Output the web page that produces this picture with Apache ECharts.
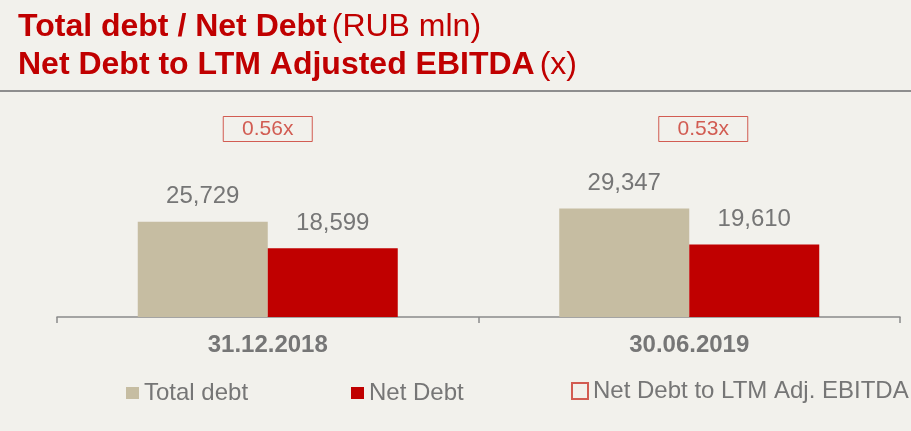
<!DOCTYPE html>
<html>
<head>
<meta charset="utf-8">
<script src="https://cdn.jsdelivr.net/npm/echarts@6/dist/echarts.min.js"></script>
<style>
  html, body { margin: 0; padding: 0; background: #f2f1ec; }
  #chart { width: 911px; height: 431px; }
</style>
</head>
<body>
<div id="chart"></div>
<script>
const categories = ['31.12.2018', '30.06.2019']
const totalDebt = [25729, 29347]
const netDebt = [18599, 19610]
const leverage = [0.56, 0.53]
const seriesNames = ['Total debt', 'Net Debt', 'Net Debt to LTM Adj. EBITDA']

const FONT = "'Liberation Sans', Arial, sans-serif"
const RED = '#c00000'
const BOX_RED = '#c9372c'
const BEIGE = '#c6bda2'
const GRAY = '#767676'

// the ratio boxes sit at a fixed height on a hidden axis (1 unit = 1px of grid height)
const BOX_LEVEL = 188
const boxOffsets = [[0, 0], [14, 0]]

const fmt = v => String(v).replace(/\B(?=(\d{3})+(?!\d))/g, ',')

const barLabel = {
  show: true,
  position: 'top',
  distance: 13,
  color: GRAY,
  fontSize: 24,
  fontFamily: FONT,
  formatter: p => fmt(p.value)
}

const legendBase = {
  top: 381,
  padding: 0,
  itemWidth: 13,
  itemHeight: 12,
  selectedMode: false,
  textStyle: { fontSize: 24, color: GRAY, fontFamily: FONT }
}

const option = {
  backgroundColor: '#f2f1ec',
  animation: false,
  title: {
    left: 18,
    top: 8,
    padding: 0,
    text: '{b|Total debt / Net Debt} {n|(RUB mln)}\n{b|Net Debt to LTM Adjusted EBITDA} {n|(x)}',
    textStyle: {
      fontWeight: 'normal',
      rich: {
        b: { fontSize: 32, fontWeight: 'bold', color: RED, fontFamily: FONT, lineHeight: 38 },
        n: { fontSize: 32, fontWeight: 'normal', color: RED, fontFamily: FONT, lineHeight: 38 }
      }
    }
  },
  graphic: [
    {
      type: 'line',
      shape: { x1: 0, y1: 91, x2: 911, y2: 91 },
      style: { stroke: '#8e8e8e', lineWidth: 2 }
    }
  ],
  legend: [
    Object.assign({}, legendBase, { left: 126, data: [{ name: seriesNames[0], icon: 'rect' }] }),
    Object.assign({}, legendBase, { left: 351, data: [{ name: seriesNames[1], icon: 'rect' }] }),
    Object.assign({}, legendBase, {
      left: 571,
      top: 379,
      itemWidth: 16,
      itemHeight: 16,
      data: [{
        name: seriesNames[2],
        icon: 'rect',
        itemStyle: { color: 'rgba(0,0,0,0)', borderColor: BOX_RED, borderWidth: 2 }
      }]
    })
  ],
  grid: { left: 57, right: 11, top: 95, bottom: 114 },
  xAxis: {
    type: 'category',
    data: categories,
    axisLine: { lineStyle: { color: '#8a8a8a', width: 1.5 } },
    axisTick: { show: true, length: 6, lineStyle: { color: '#8a8a8a', width: 1.5 } },
    axisLabel: { margin: 16, color: GRAY, fontSize: 24, fontWeight: 'bold', fontFamily: FONT }
  },
  yAxis: [
    { type: 'value', min: 0, max: 60000, show: false, splitLine: { show: false } },
    { type: 'value', min: 0, max: 222, show: false, splitLine: { show: false } }
  ],
  series: [
    {
      name: seriesNames[0],
      type: 'bar',
      data: totalDebt,
      barWidth: 130,
      barGap: '0%',
      itemStyle: { color: BEIGE },
      label: barLabel
    },
    {
      name: seriesNames[1],
      type: 'bar',
      data: netDebt,
      barWidth: 130,
      barGap: '0%',
      itemStyle: { color: RED },
      label: barLabel
    },
    {
      name: seriesNames[2],
      type: 'scatter',
      yAxisIndex: 1,
      silent: true,
      symbol: 'rect',
      symbolSize: 1,
      data: leverage.map((v, i) => ({ value: [i, BOX_LEVEL], symbolOffset: boxOffsets[i] })),
      itemStyle: { color: 'rgba(0,0,0,0)' },
      label: {
        show: true,
        position: 'inside',
        width: 89,
        height: 25,
        lineHeight: 25,
        align: 'center',
        verticalAlign: 'middle',
        borderColor: BOX_RED,
        borderWidth: 1,
        color: BOX_RED,
        fontSize: 21,
        fontFamily: FONT,
        formatter: p => leverage[p.dataIndex].toFixed(2) + 'x'
      }
    }
  ]
}

const chart = echarts.init(document.getElementById('chart'))
chart.setOption(option)
</script>
</body>
</html>
